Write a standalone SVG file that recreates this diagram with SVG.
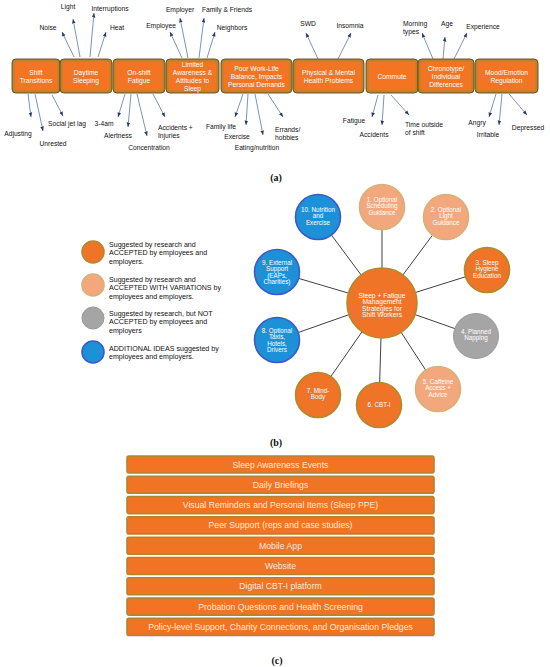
<svg xmlns="http://www.w3.org/2000/svg" width="550" height="667" viewBox="0 0 550 667">
<style>
text{font-family:"Liberation Sans",Arial,sans-serif}
.bo{fill:#B3872F;stroke:#6E4318;stroke-width:0.9}
.bi{fill:#F37423}
.bt{fill:#fff;font-size:6.7px;text-anchor:middle}
.lb{fill:#111;font-size:6.7px;text-anchor:middle}
.ll{fill:#111;font-size:6.7px}
.ar{stroke:#5877AC;stroke-width:0.8;fill:none;marker-end:url(#ah)}
.cn{stroke:#404040;stroke-width:1}
.or{fill:#F07427;stroke:#B08A2E;stroke-width:1.6}
.pe{fill:#F2A87C;stroke:#D6B27A;stroke-width:1.6}
.gr{fill:#A5A5A5;stroke:#9A9A9A;stroke-width:1}
.bl{fill:#1D91D8;stroke:#3B5CC8;stroke-width:1.6}
.st{fill:#fff;font-size:6.3px;text-anchor:middle}
.hb{fill:#fff;font-size:6.7px;text-anchor:middle}
.lg{fill:#111;font-size:7.1px}
.bar{fill:#F17424;stroke:#B5832E;stroke-width:1.6}
.bx{fill:#FFE9DA;font-size:8.7px;text-anchor:middle}
.cap{font-family:"Liberation Serif","Times New Roman",serif;font-weight:bold;font-size:10px;fill:#111;text-anchor:middle}
</style>
<defs>
<marker id="ah" markerWidth="6" markerHeight="6" refX="4.5" refY="2.5" orient="auto" markerUnits="userSpaceOnUse">
<path d="M0,0.7 L4.5,2.5 L0,4.3 Z" fill="#26396B"/>
</marker>
</defs>
<rect width="550" height="667" fill="#fff"/>

<!-- (a) connectors -->
<g id="a-connectors">
<line class="ar" x1="74" y1="57" x2="62" y2="32"/>
<line class="ar" x1="80" y1="57" x2="73" y2="19"/>
<line class="ar" x1="90" y1="57" x2="94" y2="13"/>
<line class="ar" x1="98" y1="57" x2="106" y2="32"/>
<line class="ar" x1="182" y1="58" x2="170" y2="32"/>
<line class="ar" x1="188" y1="58" x2="180" y2="18"/>
<line class="ar" x1="199" y1="58" x2="204" y2="18"/>
<line class="ar" x1="207" y1="58" x2="215" y2="32"/>
<line class="ar" x1="318" y1="59" x2="306" y2="33"/>
<line class="ar" x1="338" y1="59" x2="351" y2="33"/>
<line class="ar" x1="433" y1="59" x2="422" y2="33"/>
<line class="ar" x1="443" y1="59" x2="445" y2="37"/>
<line class="ar" x1="454" y1="59" x2="467" y2="33"/>
<line class="ar" x1="28" y1="94" x2="31" y2="117"/>
<line class="ar" x1="35" y1="94" x2="43" y2="131"/>
<line class="ar" x1="52" y1="95" x2="63" y2="116"/>
<line class="ar" x1="125" y1="94" x2="118" y2="117"/>
<line class="ar" x1="131" y1="94" x2="128" y2="127"/>
<line class="ar" x1="137" y1="94" x2="147" y2="136"/>
<line class="ar" x1="153" y1="94" x2="165" y2="117"/>
<line class="ar" x1="243" y1="94" x2="235" y2="117"/>
<line class="ar" x1="248" y1="94" x2="246" y2="125"/>
<line class="ar" x1="255" y1="94" x2="263" y2="135"/>
<line class="ar" x1="268" y1="94" x2="283" y2="117"/>
<line class="ar" x1="378" y1="95" x2="372" y2="117"/>
<line class="ar" x1="384" y1="95" x2="382" y2="125"/>
<line class="ar" x1="391" y1="95" x2="409" y2="115"/>
<line class="ar" x1="496" y1="94" x2="489" y2="117"/>
<line class="ar" x1="502" y1="94" x2="499" y2="125"/>
<line class="ar" x1="509" y1="94" x2="527" y2="115"/>
</g>

<!-- (a) boxes -->
<g id="box-shift">
<rect class="bo" x="12" y="59" width="48" height="34" rx="4"/><rect class="bi" x="14.5" y="61.5" width="43" height="29" rx="3"/>
<text class="bt" x="36" y="74.5">Shift</text><text class="bt" x="36" y="82.5">Transitions</text>
</g>
<g id="box-daytime">
<rect class="bo" x="60" y="59" width="52" height="34" rx="4"/><rect class="bi" x="62.5" y="61.5" width="47" height="29" rx="3"/>
<text class="bt" x="86" y="74.5">Daytime</text><text class="bt" x="86" y="82.5">Sleeping</text>
</g>
<g id="box-onshift">
<rect class="bo" x="113" y="59" width="52" height="34" rx="4"/><rect class="bi" x="115.5" y="61.5" width="47" height="29" rx="3"/>
<text class="bt" x="139" y="74.5">On-shift</text><text class="bt" x="139" y="82.5">Fatigue</text>
</g>
<g id="box-limited">
<rect class="bo" x="166" y="59" width="53" height="34" rx="4"/><rect class="bi" x="168.5" y="61.5" width="48" height="29" rx="3"/>
<text class="bt" x="192.5" y="66.5">Limited</text><text class="bt" x="192.5" y="74.5">Awareness &amp;</text><text class="bt" x="192.5" y="82.5">Attitudes to</text><text class="bt" x="192.5" y="90.5">Sleep</text>
</g>
<g id="box-worklife">
<rect class="bo" x="221" y="59" width="71" height="34" rx="4"/><rect class="bi" x="223.5" y="61.5" width="66" height="29" rx="3"/>
<text class="bt" x="256.5" y="70.5">Poor Work-Life</text><text class="bt" x="256.5" y="78.5">Balance, Impacts</text><text class="bt" x="256.5" y="86.5">Personal Demands</text>
</g>
<g id="box-health">
<rect class="bo" x="293" y="59" width="71" height="34" rx="4"/><rect class="bi" x="295.5" y="61.5" width="66" height="29" rx="3"/>
<text class="bt" x="328.5" y="75">Physical &amp; Mental</text><text class="bt" x="328.5" y="83">Health Problems</text>
</g>
<g id="box-commute">
<rect class="bo" x="366" y="59" width="52" height="34" rx="4"/><rect class="bi" x="368.5" y="61.5" width="47" height="29" rx="3"/>
<text class="bt" x="392" y="79">Commute</text>
</g>
<g id="box-chrono">
<rect class="bo" x="418" y="59" width="56" height="34" rx="4"/><rect class="bi" x="420.5" y="61.5" width="51" height="29" rx="3"/>
<text class="bt" x="446" y="70.5">Chronotype/</text><text class="bt" x="446" y="78.5">Individual</text><text class="bt" x="446" y="86.5">Differences</text>
</g>
<g id="box-mood">
<rect class="bo" x="475" y="59" width="63" height="34" rx="4"/><rect class="bi" x="477.5" y="61.5" width="58" height="29" rx="3"/>
<text class="bt" x="506.5" y="75">Mood/Emotion</text><text class="bt" x="506.5" y="83">Regulation</text>
</g>

<!-- (a) labels -->
<g id="a-labels">
<text class="lb" x="48" y="29.5">Noise</text>
<text class="lb" x="68" y="9">Light</text>
<text class="lb" x="110" y="11">Interruptions</text>
<text class="lb" x="117" y="30">Heat</text>
<text class="lb" x="161" y="28">Employee</text>
<text class="lb" x="180" y="12">Employer</text>
<text class="lb" x="227" y="12">Family &amp; Friends</text>
<text class="lb" x="232" y="29.5">Neighbors</text>
<text class="lb" x="308" y="26">SWD</text>
<text class="lb" x="350" y="28">Insomnia</text>
<text class="ll" x="403" y="25.5">Morning</text>
<text class="ll" x="403" y="34">types</text>
<text class="lb" x="447" y="26">Age</text>
<text class="lb" x="483" y="28.5">Experience</text>
<text class="lb" x="18" y="135.5">Adjusting</text>
<text class="lb" x="53" y="145.5">Unrested</text>
<text class="lb" x="67" y="125.5">Social jet lag</text>
<text class="lb" x="104" y="125.5">3-4am</text>
<text class="lb" x="118" y="137.5">Alertness</text>
<text class="lb" x="149" y="149.5">Concentration</text>
<text class="ll" x="158" y="130">Accidents +</text>
<text class="ll" x="158" y="137.5">Injuries</text>
<text class="lb" x="221" y="128.5">Family life</text>
<text class="lb" x="237" y="138.5">Exercise</text>
<text class="lb" x="257" y="149.5">Eating/nutrition</text>
<text class="ll" x="275" y="131.5">Errands/</text>
<text class="ll" x="275" y="139.5">hobbies</text>
<text class="lb" x="354" y="122.5">Fatigue</text>
<text class="lb" x="374" y="136.5">Accidents</text>
<text class="ll" x="405" y="126.5">Time outside</text>
<text class="ll" x="405" y="134.5">of shift</text>
<text class="lb" x="477" y="124.5">Angry</text>
<text class="lb" x="488" y="137">Irritable</text>
<text class="lb" x="528" y="129.5">Depressed</text>
</g>
<text class="cap" x="276" y="180.5">(a)</text>

<!-- (b) legend -->
<g id="legend">
<circle class="or" cx="93" cy="252" r="11"/>
<text class="lg" x="109" y="246.5">Suggested by research and</text>
<text class="lg" x="109" y="255">ACCEPTED by employees and</text>
<text class="lg" x="109" y="263.5">employers.</text>
<circle class="pe" cx="93" cy="285" r="11"/>
<text class="lg" x="109" y="281.5">Suggested by research and</text>
<text class="lg" x="109" y="290">ACCEPTED WITH VARIATIONS by</text>
<text class="lg" x="109" y="298.5">employees and employers.</text>
<circle class="gr" cx="93" cy="318" r="11"/>
<text class="lg" x="109" y="315.5">Suggested by research, but NOT</text>
<text class="lg" x="109" y="324">ACCEPTED by employees and</text>
<text class="lg" x="109" y="332.5">employers</text>
<circle class="bl" cx="93" cy="352" r="11"/>
<text class="lg" x="109" y="350.5">ADDITIONAL IDEAS suggested by</text>
<text class="lg" x="109" y="359">employees and employers.</text>
</g>

<!-- (b) connectors -->
<g id="b-connectors">
<line class="cn" x1="382" y1="303" x2="382" y2="207"/>
<line class="cn" x1="382" y1="303" x2="446" y2="217"/>
<line class="cn" x1="382" y1="303" x2="487" y2="270"/>
<line class="cn" x1="382" y1="303" x2="476" y2="336"/>
<line class="cn" x1="382" y1="303" x2="438" y2="389"/>
<line class="cn" x1="382" y1="303" x2="379" y2="405"/>
<line class="cn" x1="382" y1="303" x2="318" y2="395"/>
<line class="cn" x1="382" y1="303" x2="277" y2="340"/>
<line class="cn" x1="382" y1="303" x2="277" y2="272"/>
<line class="cn" x1="382" y1="303" x2="318" y2="217"/>
</g>

<g id="hub">
<circle class="or" cx="382" cy="303" r="35"/>
<text class="hb" x="382" y="297.5">Sleep + Fatigue</text>
<text class="hb" x="382" y="304">Management</text>
<text class="hb" x="382" y="310.5">Strategies for</text>
<text class="hb" x="382" y="317">Shift Workers</text>
</g>
<g id="s1"><circle class="pe" cx="382" cy="207" r="22.5"/>
<text class="st" x="382" y="202">1. Optional</text><text class="st" x="382" y="208.3">Scheduling</text><text class="st" x="382" y="214.6">Guidance</text></g>
<g id="s2"><circle class="pe" cx="446" cy="217" r="22.5"/>
<text class="st" x="446" y="212">2. Optional</text><text class="st" x="446" y="218.3">Light</text><text class="st" x="446" y="224.6">Guidance</text></g>
<g id="s3"><circle class="or" cx="487" cy="270" r="22.5"/>
<text class="st" x="487" y="265">3. Sleep</text><text class="st" x="487" y="271.3">Hygiene</text><text class="st" x="487" y="277.6">Education</text></g>
<g id="s4"><circle class="gr" cx="476" cy="336" r="22.5"/>
<text class="st" x="476" y="334">4. Planned</text><text class="st" x="476" y="340.3">Napping</text></g>
<g id="s5"><circle class="pe" cx="438" cy="389" r="22.5"/>
<text class="st" x="438" y="384">5. Caffeine</text><text class="st" x="438" y="390.3">Access +</text><text class="st" x="438" y="396.6">Advice</text></g>
<g id="s6"><circle class="or" cx="379" cy="405" r="22.5"/>
<text class="st" x="379" y="407">6. CBT-I</text></g>
<g id="s7"><circle class="or" cx="318" cy="395" r="22.5"/>
<text class="st" x="318" y="393">7. Mind-</text><text class="st" x="318" y="399.3">Body</text></g>
<g id="s8"><circle class="bl" cx="277" cy="340" r="22.5"/>
<text class="st" x="277" y="333">8. Optional</text><text class="st" x="277" y="339.3">Taxis,</text><text class="st" x="277" y="345.6">Hotels,</text><text class="st" x="277" y="351.9">Drivers</text></g>
<g id="s9"><circle class="bl" cx="277" cy="272" r="22.5"/>
<text class="st" x="277" y="265">9. External</text><text class="st" x="277" y="271.3">Support</text><text class="st" x="277" y="277.6">(EAPs,</text><text class="st" x="277" y="283.9">Charities)</text></g>
<g id="s10"><circle class="bl" cx="318" cy="217" r="22.5"/>
<text class="st" x="318" y="212">10. Nutrition</text><text class="st" x="318" y="218.3">and</text><text class="st" x="318" y="224.6">Exercise</text></g>
<text class="cap" x="276" y="445.5">(b)</text>

<!-- (c) bars -->
<g id="c1"><rect class="bar" x="127" y="456" width="307" height="17" rx="2"/><text class="bx" x="280.5" y="467.5">Sleep Awareness Events</text></g>
<g id="c2"><rect class="bar" x="127" y="476.3" width="307" height="17" rx="2"/><text class="bx" x="280.5" y="487.8">Daily Briefings</text></g>
<g id="c3"><rect class="bar" x="127" y="496.6" width="307" height="17" rx="2"/><text class="bx" x="280.5" y="508.1">Visual Reminders and Personal Items (Sleep PPE)</text></g>
<g id="c4"><rect class="bar" x="127" y="516.9" width="307" height="17" rx="2"/><text class="bx" x="280.5" y="528.4">Peer Support (reps and case studies)</text></g>
<g id="c5"><rect class="bar" x="127" y="537.2" width="307" height="17" rx="2"/><text class="bx" x="280.5" y="548.7">Mobile App</text></g>
<g id="c6"><rect class="bar" x="127" y="557.5" width="307" height="17" rx="2"/><text class="bx" x="280.5" y="569">Website</text></g>
<g id="c7"><rect class="bar" x="127" y="577.8" width="307" height="17" rx="2"/><text class="bx" x="280.5" y="589.3">Digital CBT-I platform</text></g>
<g id="c8"><rect class="bar" x="127" y="598.1" width="307" height="17" rx="2"/><text class="bx" x="280.5" y="609.6">Probation Questions and Health Screening</text></g>
<g id="c9"><rect class="bar" x="127" y="618.4" width="307" height="17" rx="2"/><text class="bx" x="280.5" y="629.9">Policy-level Support, Charity Connections, and Organisation Pledges</text></g>
<text class="cap" x="277" y="663.5">(c)</text>
</svg>
